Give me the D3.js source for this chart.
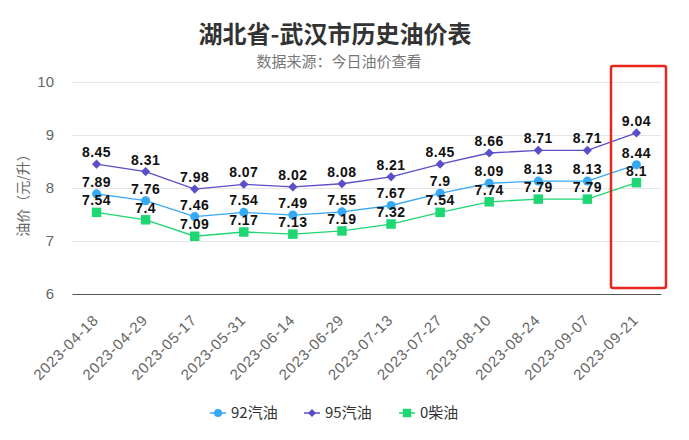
<!DOCTYPE html>
<html><head><meta charset="utf-8">
<script src="https://cdn.jsdelivr.net/npm/d3@7"></script>
<style>body{margin:0;background:#fff;}svg{display:block;font-family:"Noto Sans CJK SC","Liberation Sans",Arial,sans-serif;}</style>
</head><body><svg id="c" width="689" height="440"></svg>
<script>
const categories = ["2023-04-18","2023-04-29","2023-05-17","2023-05-31","2023-06-14","2023-06-29","2023-07-13","2023-07-27","2023-08-10","2023-08-24","2023-09-07","2023-09-21"];
const gas92 = [7.89,7.76,7.46,7.54,7.49,7.55,7.67,7.9,8.09,8.13,8.13,8.44];
const gas95 = [8.45,8.31,7.98,8.07,8.02,8.08,8.21,8.45,8.66,8.71,8.71,9.04];
const diesel0 = [7.54,7.4,7.09,7.17,7.13,7.19,7.32,7.54,7.74,7.79,7.79,8.1];
const yTicks = [6,7,8,9,10];
const seriesNames = ["92汽油","95汽油","0柴油"];

const svg = d3.select("#c");
const L = 72, R = 661, T = 82, B = 294;
const x = d3.scaleBand().domain(categories).range([L, R]);
const y = d3.scaleLinear().domain([6, 10]).range([B, T]);
const cx = d => x(d) + x.bandwidth() / 2;

svg.append("text").attr("x", 335).attr("y", 43).attr("text-anchor", "middle")
  .attr("font-size", 24).attr("font-weight", "bold").attr("fill", "#333").text("湖北省-武汉市历史油价表");
svg.append("text").attr("x", 339).attr("y", 67).attr("text-anchor", "middle")
  .attr("font-size", 15).attr("fill", "#777").text("数据来源：今日油价查看");

// grid
const gy = svg.append("g").attr("transform", `translate(${L},0)`)
  .call(d3.axisLeft(y).tickValues(yTicks).tickSize(-(R - L)).tickFormat(d3.format("d")));
gy.select(".domain").remove();
gy.selectAll(".tick line").attr("stroke", "#e6e6e6");
gy.selectAll(".tick text").attr("x", -18).attr("fill", "#666").attr("font-size", 15)
  .attr("font-family", "Liberation Sans, Arial, sans-serif");
gy.selectAll(".tick").filter(d => d === 6).select("line").remove();

// x axis
const gx = svg.append("g").attr("transform", `translate(0,${B})`)
  .call(d3.axisBottom(x).tickSize(0));
gx.select(".domain").attr("stroke", "#555").attr("stroke-width", 1.2);
gx.selectAll(".tick text").attr("fill", "#666").attr("font-size", 15)
  .attr("letter-spacing", 0.8)
  .attr("font-family", "Liberation Sans, Arial, sans-serif")
  .attr("text-anchor", "end").attr("dy", 0).attr("y", 0)
  .attr("transform", "translate(3,27) rotate(-45)");

svg.append("text").attr("transform", `translate(28,${(T+B)/2+4}) rotate(-90)`)
  .attr("text-anchor", "middle").attr("font-size", 14).attr("fill", "#666").text("油价（元/升）");

const series = [
  {name: seriesNames[0], values: gas92, color: "#36a9f5", shape: d3.symbolCircle, size: 64, rot: 0},
  {name: seriesNames[1], values: gas95, color: "#5a4fc8", shape: d3.symbolSquare, size: 42, rot: 45},
  {name: seriesNames[2], values: diesel0, color: "#1ed672", shape: d3.symbolSquare, size: 90, rot: 0}
];
const line = d3.line().x((d, i) => cx(categories[i])).y(d => y(d));

series.forEach(s => {
  svg.append("path").datum(s.values).attr("d", line).attr("fill", "none")
    .attr("stroke", s.color).attr("stroke-width", 1.3);
});
series.forEach(s => {
  svg.append("g").selectAll("path").data(s.values).join("path")
    .attr("transform", (d, i) => `translate(${cx(categories[i])},${y(d)}) rotate(${s.rot})`)
    .attr("d", d3.symbol().type(s.shape).size(s.size)).attr("fill", s.color);
});
series.forEach(s => {
  svg.append("g").selectAll("text").data(s.values).join("text")
    .attr("x", (d, i) => cx(categories[i])).attr("y", d => y(d) - 7)
    .attr("text-anchor", "middle").attr("font-size", 14).attr("font-weight", "bold")
    .attr("fill", "#111").attr("letter-spacing", 0.5)
    .attr("font-family", "Liberation Sans, Arial, sans-serif")
    .text(d => d);
});

// highlight box
svg.append("rect").attr("x", 611).attr("y", 66).attr("width", 55).attr("height", 222)
  .attr("rx", 2).attr("fill", "none").attr("stroke", "#e8261c").attr("stroke-width", 2.5);

// legend
const leg = svg.append("g");
const legX = [210, 304, 399];
series.forEach((s, i) => {
  const g = leg.append("g").attr("transform", `translate(${legX[i]},413)`);
  g.append("line").attr("x1", 0).attr("x2", 16).attr("stroke", s.color).attr("stroke-width", 1.5);
  g.append("path").attr("transform", `translate(8,0) rotate(${s.rot})`)
    .attr("d", d3.symbol().type(s.shape).size(s.size * 0.8)).attr("fill", s.color);
  g.append("text").attr("x", 21).attr("y", 5).attr("font-size", 15).attr("fill", "#333").text(s.name);
});
</script></body></html>
